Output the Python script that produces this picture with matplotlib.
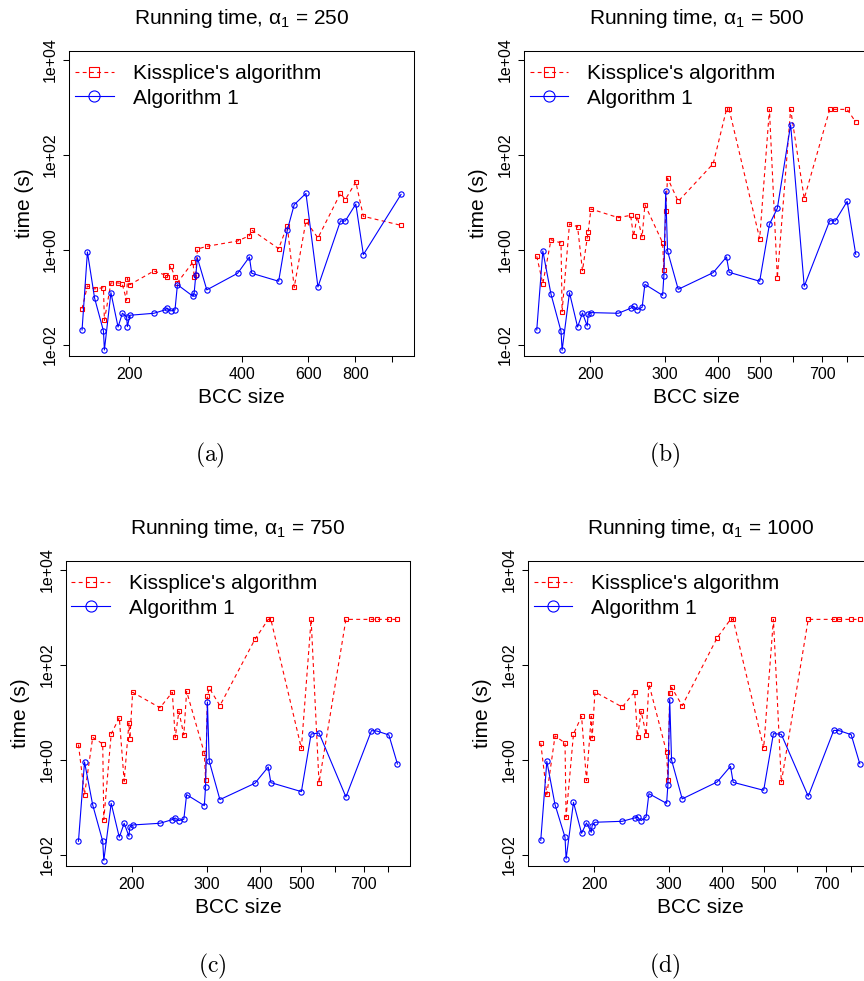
import numpy as np
import matplotlib
matplotlib.use("Agg")
import matplotlib.pyplot as plt
from matplotlib.ticker import NullLocator

plt.rcParams['font.family'] = ['Liberation Sans', 'DejaVu Sans']
plt.rcParams['mathtext.fontset'] = 'custom'
plt.rcParams['mathtext.rm'] = 'Liberation Sans'
plt.rcParams['mathtext.it'] = 'Liberation Sans:italic'

nan = np.nan

# BCC sizes (x), shared by all four runs; nan = point not present in that run
bcc_size = [150, 155, 162, 171, 172, 179, 187, 192, 197, 198, 201, 233, 249, 253,
            258, 265, 269, 296, 298, 301, 304, 322, 389, 418, 424, 500, 527, 550,
            591, 636, 730, 752, 802, 840, 1058]

# alpha_1 = 250
kiss_250 = [0.057, 0.172, 0.149, 0.158, 0.0325, 0.199, 0.199, 0.186, 0.086, 0.245, 0.183,
            0.356, 0.293, 0.266, 0.453, 0.266, 0.202, 0.55, 0.27, 0.29, 1.03, 1.175,
            1.52, 1.97, 2.59, 1.05, 3.2, 0.161, 4.01, 1.76, 15.3, 11.3, 26.6, 5.03, 3.25]
alg1_250 = [0.0204, 0.893, 0.0945, 0.0194, 0.0077, 0.124, 0.0235, 0.0457, 0.0389, 0.0239,
            0.0415, 0.0457, 0.0537, 0.0582, 0.0512, 0.0537, 0.183, 0.104, 0.122, 0.29,
            0.668, 0.142, 0.318, 0.701, 0.318, 0.216, 2.55, 8.86, 15.3, 0.164, 4.01,
            4.01, 9.15, 0.785, 14.6]

# alpha_1 = 500
kiss_500 = [0.724, 0.192, 1.62, 1.38, 0.0495, 3.47, 3.05, 0.361, 1.76, 2.36, 7.18, 4.72,
            5.28, 1.91, 5.03, 1.85, 8.86, 1.40, 0.379, 6.62, 32.3, 10.4, 64.6, 900, 900,
            1.70, 900, 0.253, 900, 11.9, 900, 900, 900, 487, nan]
alg1_500 = [0.0204, 0.937, 0.115, 0.0191, 0.0076, 0.124, 0.0235, 0.0464, 0.0247, 0.0435,
            0.0472, 0.0457, 0.0582, 0.0641, 0.0546, 0.0611, 0.186, 0.109, 0.279, 16.9,
            0.937, 0.146, 0.328, 0.701, 0.333, 0.216, 3.41, 7.41, 428, 0.169, 4.08, 4.01,
            10.4, 0.797, nan]

# alpha_1 = 750
kiss_750 = [2.07, 0.183, 2.95, 2.14, 0.0546, 3.47, 7.66, 0.35, 5.92, 2.77, 26.2, 12.4,
            26.2, 2.95, 10.4, 3.31, 27.5, 1.38, 0.379, 21.5, 32.3, 13.7, 341, 900, 900,
            1.73, 900, 0.323, nan, 900, 900, 900, 900, 900, nan]
alg1_750 = [0.0191, 0.893, 0.111, 0.0191, 0.0075, 0.120, 0.0232, 0.0457, 0.0243, 0.0382,
            0.0421, 0.0457, 0.0546, 0.0592, 0.052, 0.0555, 0.183, 0.1075, 0.270, 16.4,
            0.922, 0.144, 0.318, 0.701, 0.328, 0.212, 3.47, 3.64, nan, 0.164, 4.08, 4.0,
            3.31, 0.81, nan]

# alpha_1 = 1000
kiss_1000 = [2.21, 0.186, 3.15, 2.24, 0.062, 3.47, 8.17, 0.367, 8.17, 2.86, 26.6, 12.8,
             27.0, 3.0, 10.4, 3.36, 39.2, 1.43, 0.379, 25.7, 33.3, 13.7, 370, 900, 900,
             1.76, 900, 0.333, nan, 900, 900, 900, 900, 900, nan]
alg1_1000 = [0.020, 0.922, 0.113, 0.0232, 0.0081, 0.126, 0.0281, 0.0464, 0.0295, 0.0408,
             0.048, 0.0503, 0.0592, 0.0611, 0.052, 0.062, 0.192, 0.120, 0.288, 18.3,
             0.984, 0.149, 0.339, 0.724, 0.333, 0.226, 3.53, 3.41, nan, 0.169, 4.14, 4.08,
             3.36, 0.824, nan]

alphas = [250, 500, 750, 1000]
captions = ['(a)', '(b)', '(c)', '(d)']
xticks_a = [200, 400, 600, 800, 1000]
xlabels_a = ['200', '400', '600', '800', '']
xticks_b = [200, 300, 400, 500, 600, 700, 800]
xlabels_b = ['200', '300', '400', '500', '', '700', '']
yticks = [1e-2, 1e0, 1e2, 1e4]
ylabels = ['1e-02', '1e+00', '1e+02', '1e+04']

W, H = 864, 981
fig = plt.figure(figsize=(W / 100, H / 100), dpi=100)


def fx(px):
    return px / W


def fy(py):
    return 1 - py / H


# box left, top (pixels), caption centre
boxes = [(69.3, 50.7), (524, 50.7), (65.7, 560.7), (528, 560.7)]
cap_pos = [(210, 455), (665, 455), (212, 966), (665, 966)]
bw, bh = 344.5, 305.3

series = [(kiss_250, alg1_250), (kiss_500, alg1_500),
          (kiss_750, alg1_750), (kiss_1000, alg1_1000)]

for i, (kiss, alg1) in enumerate(series):
    left, top = boxes[i]
    ax = fig.add_axes([fx(left), fy(top + bh), bw / W, bh / H])
    x = np.array(bcc_size, float)
    k = np.array(kiss, float)
    a = np.array(alg1, float)
    mk = ~np.isnan(k)
    ma = ~np.isnan(a)
    ax.plot(x[mk], k[mk], color='red', ls=(0, (3.5, 3)), lw=0.8, marker='s', ms=3.2,
            mfc='none', mew=0.8, label="Kissplice's algorithm")
    ax.plot(x[ma], a[ma], color='blue', ls='-', lw=0.8, marker='o', ms=3.8,
            mfc='none', mew=0.8, label='Algorithm 1')
    ax.set_xscale('log')
    ax.set_yscale('log')
    lo, hi = np.log10(x[mk | ma].min()), np.log10(x[mk | ma].max())
    pad = 0.04 * (hi - lo)
    ax.set_xlim(10 ** (lo - pad), 10 ** (hi + pad))
    ax.set_ylim(10 ** -2.24, 10 ** 4.19)
    if i == 0:
        ax.set_xticks(xticks_a)
        ax.set_xticklabels(xlabels_a)
    else:
        ax.set_xticks(xticks_b)
        ax.set_xticklabels(xlabels_b)
    ax.set_yticks(yticks)
    ax.set_yticklabels(ylabels, rotation=90, va='center')
    ax.xaxis.set_minor_locator(NullLocator())
    ax.yaxis.set_minor_locator(NullLocator())
    ax.tick_params(direction='out', length=4, width=0.75, labelsize=11.5, pad=4)
    for s in ax.spines.values():
        s.set_linewidth(0.75)

    ax.legend(loc='upper left', bbox_to_anchor=(0.016, 0.955), frameon=False,
              borderpad=0, borderaxespad=0, fontsize=15, markerscale=2.1,
              handlelength=1.87, handletextpad=0.9, labelspacing=0.25)

    cx = left + bw / 2
    fig.text(fx(cx), fy(top - 26.7), r'Running time, $\mathrm{\alpha}_1$ = %d' % alphas[i],
             ha='center', va='baseline', fontsize=15)
    fig.text(fx(cx), fy(top + 352.6), 'BCC size', ha='center', va='baseline', fontsize=15)
    fig.text(fx(left - 45), fy(top + bh / 2), 'time (s)', rotation=90,
             ha='center', va='center', fontsize=15)
    fig.text(fx(cap_pos[i][0]), fy(cap_pos[i][1]), r'$\mathrm{%s}$' % captions[i],
             math_fontfamily='cm', ha='center', va='center', fontsize=17)

fig.savefig('out.png', dpi=100)
